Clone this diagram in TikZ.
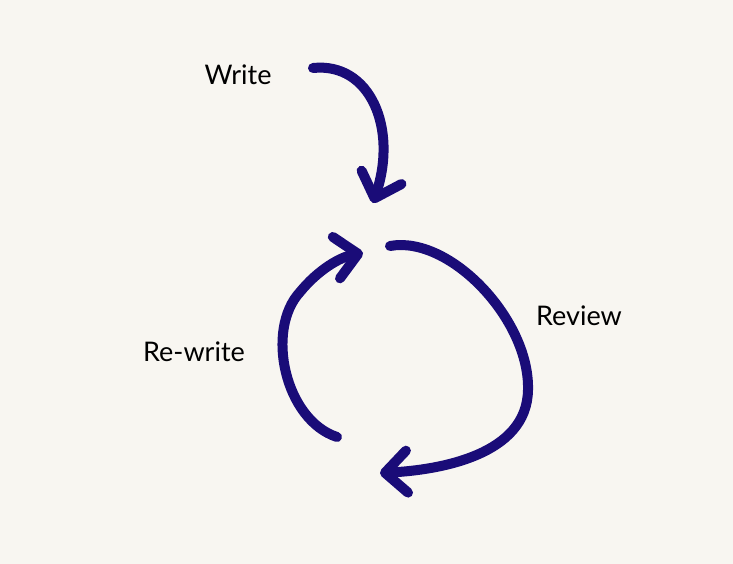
\documentclass[tikz,border=0pt]{standalone}
\usepackage{fontspec}
\setmainfont{Lato}
\usetikzlibrary{arrows.meta}
\definecolor{paper}{HTML}{F8F6F1}
\definecolor{ink}{HTML}{1A0C78}
\begin{document}
\begin{tikzpicture}[x=1pt,y=-1pt,
		loop/.style={ink, line width=10pt, line cap=round, -{Straight Barb[length=22pt, width=42pt, round]}},
		lbl/.style={font=\fontsize{27}{32}\selectfont, text=black}]
	\fill[paper] (0,0) rectangle (733,564);
	\useasboundingbox (0,0) rectangle (733,564);
	% labels
	\node[lbl] (write) at (238,75) {Write};
	\node[lbl] (review) at (579,316) {Review};
	\node[lbl] (rewrite) at (194,352) {Re-write};
	% end points of the strokes
	\coordinate (w0) at (313,68);
	\coordinate (w1) at (373,203);
	\coordinate (r0) at (390,246);
	\coordinate (r1) at (528,390);
	\coordinate (r2) at (380,473);
	\coordinate (e0) at (337,437);
	\coordinate (e1) at (300,292);
	\coordinate (e2) at (363,253);
	% write
	\draw[loop] (w0) .. controls (370,62) and (398,128) .. (w1);
	% review
	\draw[loop] (r0) .. controls (450,235) and (530,320) .. (r1)
		.. controls (527,455) and (440,470) .. (r2);
	% re-write
	\draw[loop] (e0) .. controls (285,420) and (265,330) .. (e1)
		.. controls (318,270) and (340,257) .. (e2);
\end{tikzpicture}
\end{document}
